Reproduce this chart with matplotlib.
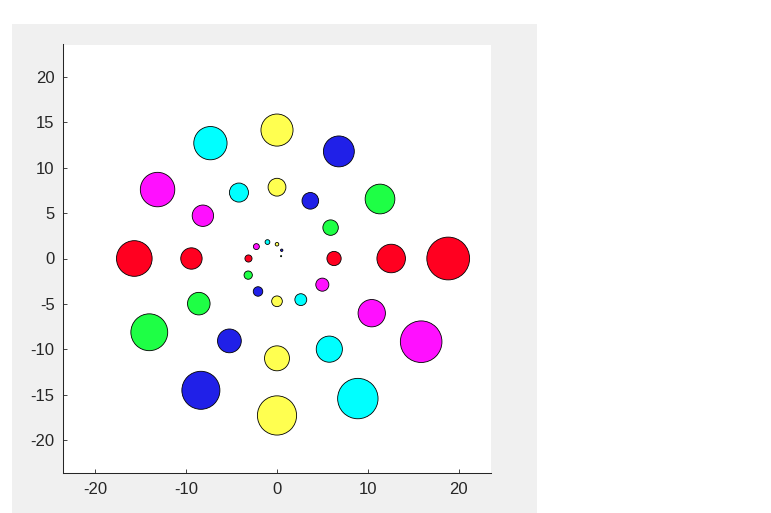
import matplotlib
matplotlib.use("Agg")
import matplotlib.pyplot as plt
from matplotlib.patches import Rectangle

# Points (spiral, one point every 30 degrees)
x = [0.45, 0.52, 0.00, -1.05, -2.27, -3.14, -3.17, -2.09, 0.00, 2.62, 4.99, 6.28,
     5.90, 3.67, 0.00, -4.19, -8.16, -9.42, -8.61, -5.24, 0.00, 5.76, 10.43, 12.57,
     11.34, 6.81, 0.00, -7.33, -13.15, -15.71, -14.06, -8.38, 0.00, 8.90, 15.87, 18.85]
y = [0.26, 0.91, 1.57, 1.81, 1.31, 0.00, -1.83, -3.63, -4.71, -4.53, -2.88, 0.00,
     3.40, 6.35, 7.85, 7.26, 4.71, 0.00, -4.97, -9.07, -10.99, -9.98, -6.02, 0.00,
     6.55, 11.79, 14.14, 12.70, 7.59, 0.00, -8.12, -14.51, -17.28, -15.42, -9.16, 0.00]
palette = ["#1EFF45", "#2020E8", "#FFFF50", "#00FFFF", "#FF10FF", "#FF0020"]
colors = [palette[i % 6] for i in range(len(x))]
xticks = [-20, -10, 0, 10, 20]
yticks = [-20, -15, -10, -5, 0, 5, 10, 15, 20]

plt.rcParams['font.family'] = ['Liberation Sans', 'DejaVu Sans']
plt.rcParams['axes.unicode_minus'] = False

W, H = 771, 513
fig = plt.figure(figsize=(W / 100, H / 100), dpi=100)
fig.patch.set_facecolor("white")
fig.patches.append(Rectangle((12 / W, 0), (537 - 12) / W, (513 - 24) / H,
                             transform=fig.transFigure, facecolor="#F0F0F0",
                             edgecolor="none", zorder=-10))

ax = fig.add_axes([63 / W, (513 - 472.5) / H, (491 - 63) / W, (472.5 - 44.5) / H])
ax.set_zorder(1)
ax.set_facecolor("white")

r = [(a * a + b * b) ** 0.5 for a, b in zip(x, y)]
sizes = [(1.634 * v) ** 2 for v in r]
ax.scatter(x, y, s=sizes, c=colors, edgecolors="black", linewidths=0.6, zorder=3)

lim = 23.56
ax.set_xlim(-lim, lim)
ax.set_ylim(-lim, lim)
ax.set_xticks(xticks)
ax.set_yticks(yticks)
for s in ["top", "right"]:
    ax.spines[s].set_visible(False)
for s in ["left", "bottom"]:
    ax.spines[s].set_color("#262626")
    ax.spines[s].set_linewidth(0.75)
ax.tick_params(direction="in", length=3, width=0.6, colors="#262626",
               labelsize=12, labelcolor="#262626")
ax.tick_params(axis="y", pad=6)
ax.tick_params(axis="x", pad=7)

fig.savefig("out.png", dpi=100, facecolor="white")
